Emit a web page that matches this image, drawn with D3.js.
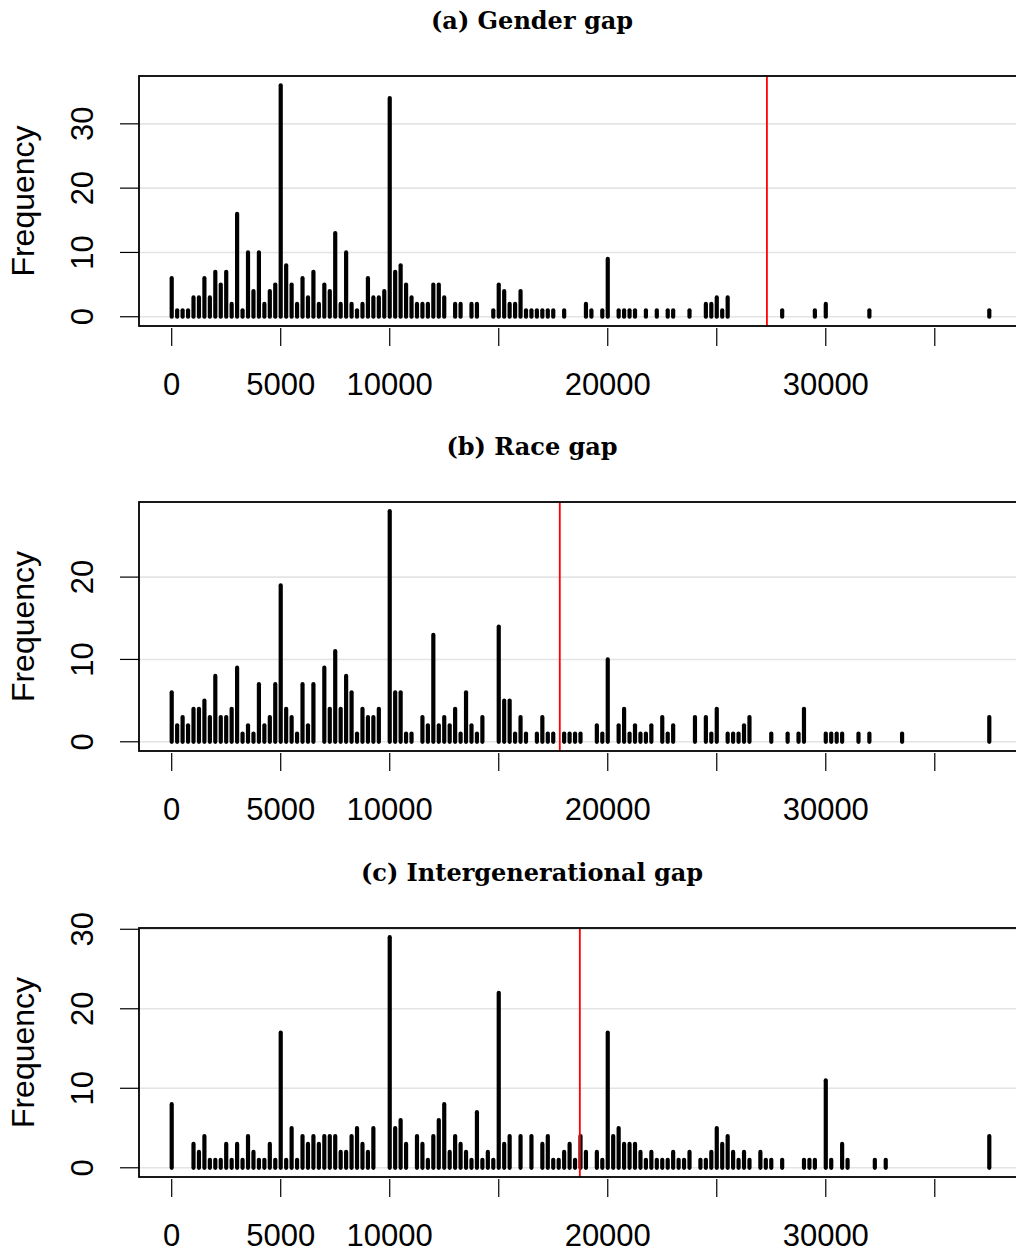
<!DOCTYPE html>
<html>
<head>
<meta charset="utf-8">
<script src="https://cdn.jsdelivr.net/npm/d3@7"></script>
<style>
  body { margin: 0; background: #fff; }
  svg { display: block; }
</style>
</head>
<body>
<div id="chart"></div>
<script>
// amounts are binned in steps of 250
const genderBins = [0,250,500,750,1000,1250,1500,1750,2000,2250,2500,2750,3000,3250,3500,3750,4000,4250,4500,4750,
  5000,5250,5500,5750,6000,6250,6500,6750,7000,7250,7500,7750,8000,8250,8500,8750,9000,9250,9500,9750,
  10000,10250,10500,10750,11000,11250,11500,11750,12000,12250,12500,13000,13250,13750,14000,14750,
  15000,15250,15500,15750,16000,16250,16500,16750,17000,17250,17500,18000,19000,19250,19750,
  20000,20500,20750,21000,21250,21750,22250,22750,23000,23750,24500,24750,25000,25250,25500,
  28000,29500,30000,32000,37500];
const genderCounts = [6,1,1,1,3,3,6,3,7,5,7,2,16,1,10,4,10,2,4,5,
  36,8,5,2,6,3,7,2,5,4,13,2,10,2,1,2,6,3,3,4,
  34,7,8,5,3,2,2,2,5,5,3,2,2,2,2,1,
  5,4,2,2,4,1,1,1,1,1,1,1,2,1,1,
  9,1,1,1,1,1,1,1,1,1,2,2,3,1,3,
  1,1,2,1,1];
const genderMark = 27300;

const raceBins = [0,250,500,750,1000,1250,1500,1750,2000,2250,2500,2750,3000,3250,3500,3750,4000,4250,4500,4750,
  5000,5250,5500,5750,6000,6250,6500,7000,7250,7500,7750,8000,8250,8500,8750,9000,9250,9500,
  10000,10250,10500,10750,11000,11500,11750,12000,12250,12500,12750,13000,13250,13500,13750,14000,14250,
  15000,15250,15500,15750,16000,16250,16750,17000,17250,17500,18000,18250,18500,18750,19500,19750,
  20000,20500,20750,21000,21250,21500,21750,22000,22500,22750,23000,24000,24500,24750,
  25000,25500,25750,26000,26250,26500,27500,28250,28750,29000,
  30000,30250,30500,30750,31500,32000,33500,37500];
const raceCounts = [6,2,3,2,4,4,5,3,8,3,3,4,9,1,2,1,7,2,3,7,
  19,4,3,1,7,2,7,9,4,11,4,8,6,1,4,3,3,4,
  28,6,6,1,1,3,2,13,2,3,2,4,1,6,2,1,3,
  14,5,5,1,3,1,1,3,1,1,1,1,1,1,2,1,
  10,2,4,1,2,1,1,2,3,1,2,3,3,1,
  4,1,1,1,2,3,1,1,1,4,
  1,1,1,1,1,1,1,3];
const raceMark = 17800;

const generationBins = [0,1000,1250,1500,1750,2000,2250,2500,2750,3000,3250,3500,3750,4000,4250,4500,4750,
  5000,5250,5500,5750,6000,6250,6500,6750,7000,7250,7500,7750,8000,8250,8500,8750,9000,9250,
  10000,10250,10500,10750,11250,11500,11750,12000,12250,12500,12750,13000,13250,13500,13750,14000,14250,14500,14750,
  15000,15250,15500,16000,16500,17000,17250,17500,17750,18000,18250,18500,18750,19000,19500,19750,
  20000,20250,20500,20750,21000,21250,21500,21750,22000,22250,22500,22750,23000,23250,23500,23750,24250,24500,24750,
  25000,25250,25500,25750,26000,26250,26500,27000,27250,27500,28000,29000,29250,29500,
  30000,30250,30750,31000,32250,32750,37500];
const generationCounts = [8,3,2,4,1,1,1,3,1,3,1,4,2,1,1,3,1,
  17,1,5,1,4,3,4,3,4,4,4,2,2,4,5,3,2,5,
  29,5,6,3,4,3,1,4,6,8,2,4,3,2,1,7,1,2,1,
  22,3,4,4,4,3,4,1,1,2,3,1,4,2,2,1,
  17,4,5,3,3,3,2,1,2,1,1,1,2,1,1,2,1,1,2,
  5,3,4,2,1,2,1,2,1,1,1,1,1,1,
  11,1,3,1,1,1,4];
const generationMark = 18720;

const xTicks = [0,5000,10000,15000,20000,25000,30000,35000];
const xTickLabels = ["0","5000","10000","","20000","","30000",""];

const panels = [
  {title: "(a) Gender gap", bins: genderBins, counts: genderCounts, mark: genderMark, yTicks: [0,10,20,30], top: 76, bottom: 326, titleY: 29},
  {title: "(b) Race gap", bins: raceBins, counts: raceCounts, mark: raceMark, yTicks: [0,10,20], top: 502, bottom: 751, titleY: 455},
  {title: "(c) Intergenerational gap", bins: generationBins, counts: generationCounts, mark: generationMark, yTicks: [0,10,20,30], top: 928, bottom: 1177, titleY: 881}
];

const width = 1016, height = 1250;
const boxLeft = 139, boxRight = 1022;

const svg = d3.select("#chart").append("svg")
  .attr("width", width)
  .attr("height", height);

const x = d3.scaleLinear().domain([-1500, 39000]).range([boxLeft, boxRight]);

function draw_panel(p)
{
  const maxN = d3.max(p.counts);
  const y = d3.scaleLinear().domain([-0.04 * maxN, maxN * 1.04]).range([p.bottom, p.top]);
  const g = svg.append("g");

  g.append("text")
    .attr("x", 532)
    .attr("y", p.titleY)
    .attr("text-anchor", "middle")
    .attr("font-family", "DejaVu Serif")
    .attr("font-weight", "bold")
    .attr("font-size", "24px")
    .text(p.title);

  // light grid at y ticks
  g.selectAll(".grid")
    .data(p.yTicks)
    .enter()
    .append("line")
    .attr("x1", boxLeft).attr("x2", boxRight)
    .attr("y1", d => y(d)).attr("y2", d => y(d))
    .style("stroke", "#e4e4e4")
    .style("stroke-width", 1.6);

  g.selectAll(".bar")
    .data(p.bins)
    .enter()
    .append("line")
    .attr("x1", d => x(d)).attr("x2", d => x(d))
    .attr("y1", y(0))
    .attr("y2", (d, i) => y(p.counts[i]))
    .style("stroke", "black")
    .style("stroke-width", 4.2)
    .style("stroke-linecap", "round");

  g.append("line")
    .attr("x1", x(p.mark)).attr("x2", x(p.mark))
    .attr("y1", p.top).attr("y2", p.bottom)
    .style("stroke", "#ff0000")
    .style("stroke-width", 1.8);

  g.append("rect")
    .attr("x", boxLeft).attr("y", p.top)
    .attr("width", boxRight - boxLeft).attr("height", p.bottom - p.top)
    .style("fill", "none")
    .style("stroke", "black")
    .style("stroke-width", 1.8);

  // x axis
  g.selectAll(".xtick")
    .data(xTicks)
    .enter()
    .append("line")
    .attr("x1", d => x(d)).attr("x2", d => x(d))
    .attr("y1", p.bottom + 2).attr("y2", p.bottom + 20)
    .style("stroke", "black")
    .style("stroke-width", 1.2);

  g.selectAll(".xlab")
    .data(xTicks)
    .enter()
    .append("text")
    .attr("x", d => x(d))
    .attr("y", p.bottom + 69)
    .attr("text-anchor", "middle")
    .attr("font-family", "Liberation Sans")
    .attr("font-size", "31px")
    .text((d, i) => xTickLabels[i]);

  // y axis
  g.selectAll(".ytick")
    .data(p.yTicks)
    .enter()
    .append("line")
    .attr("x1", boxLeft - 19).attr("x2", boxLeft)
    .attr("y1", d => y(d)).attr("y2", d => y(d))
    .style("stroke", "black")
    .style("stroke-width", 1.2);

  g.selectAll(".ylab")
    .data(p.yTicks)
    .enter()
    .append("text")
    .attr("transform", d => "translate(93," + y(d) + ") rotate(-90)")
    .attr("text-anchor", "middle")
    .attr("font-family", "Liberation Sans")
    .attr("font-size", "31px")
    .text(d => d);

  g.append("text")
    .attr("transform", "translate(34," + (p.top + p.bottom) / 2 + ") rotate(-90)")
    .attr("text-anchor", "middle")
    .attr("font-family", "Liberation Sans")
    .attr("font-size", "32px")
    .text("Frequency");
}

panels.forEach(draw_panel);
</script>
</body>
</html>
